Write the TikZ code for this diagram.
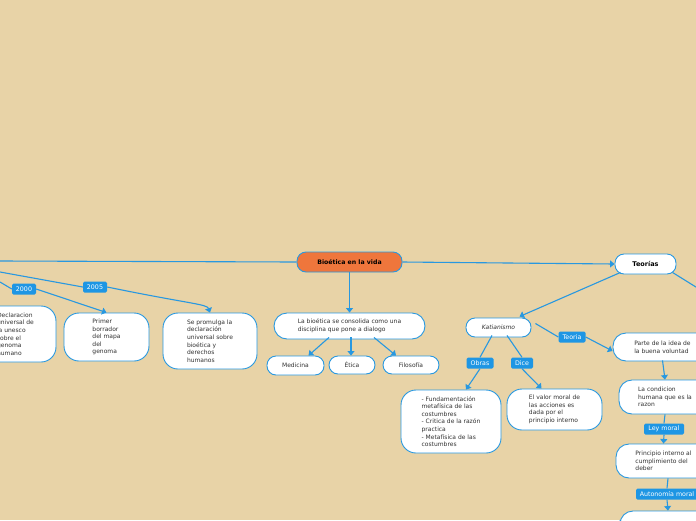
\documentclass[tikz,border=0pt]{standalone}
\usepackage{fontspec}
\setmainfont{DejaVu Sans}
\usetikzlibrary{arrows.meta}
\definecolor{bg}{RGB}{232,211,167}
\definecolor{ln}{RGB}{40,152,224}
\definecolor{lbl}{RGB}{30,150,228}
\definecolor{org}{RGB}{239,118,60}
\definecolor{txt}{RGB}{50,50,50}
\begin{document}
\begin{tikzpicture}[x=1pt,y=-1pt,
 box/.style={draw=ln, line width=0.9pt, fill=white, rounded corners=13pt, align=left,
   font=\fontsize{6}{7.6}\selectfont, text=txt, inner sep=0pt},
 pill/.style={box, rounded corners=9pt},
 lab/.style={fill=lbl, text=white, rounded corners=1.5pt, font=\fontsize{6.3}{7}\selectfont,
   inner sep=0pt, minimum height=11pt},
 conn/.style={draw=ln, line width=1.1pt},
 arr/.style={conn, -{Triangle[width=7pt,length=4.5pt]}},
]
\clip (0,0) rectangle (696,520);
\fill[bg] (0,0) rectangle (696,520);

% main nodes
\node[pill, fill=org, text=black, font=\fontsize{6.2}{7}\selectfont\bfseries, minimum width=105, minimum height=20] (root) at (349.5,262) {Bioética en la vida};
\node[pill, text=black, font=\fontsize{6.5}{7}\selectfont\bfseries, minimum width=61, minimum height=20] (teo) at (645.5,264) {Teorías};

% left branch
\node[box, minimum width=81, minimum height=56, rounded corners=15pt] (decl) at (15.5,334) {Declaracion\\universal de\\la unesco\\sobre el\\genoma\\humano};
\node[box, minimum width=85, minimum height=48, rounded corners=15pt] (prim) at (106.5,337) {Primer\\borrador\\del mapa\\del\\genoma};
\node[box, minimum width=94, minimum height=56, rounded corners=15pt] (prom) at (210,341) {Se promulga la\\declaración\\universal sobre\\bioética y\\derechos\\humanos};

\coordinate (l1) at (0,272);
\coordinate (l2) at (0,282);
\coordinate (l0) at (0,261);
\node[lab, minimum width=24] (y2000) at (24,289) {2000};
\node[lab, minimum width=24] (y2005) at (95,287) {2005};

\draw[conn] (root.west) -- (l0);
\draw[conn] (l2) -- (y2000.west);
\draw[arr] (y2000.east) -- (prim.north);
\draw[conn] (l1) -- (y2005.west);
\draw[arr] (y2005.east) .. controls (190,304) and (207,304) .. (prom.north);

% center branch
\node[box, minimum width=151, minimum height=26] (cons) at (349.5,326) {La bioética se consolida como una\\disciplina que pone a dialogo};
\node[pill, minimum width=57, minimum height=19] (med) at (295.5,365.5) {Medicina};
\node[pill, minimum width=46, minimum height=18] (eti) at (352,365) {Ética};
\node[pill, minimum width=56, minimum height=18] (fil) at (411,365) {Filosofía};

\draw[arr] (root.south) -- (cons.north);
\draw[arr] ([xshift=-20.5,yshift=2]cons.south) -- ([xshift=13]med.north);
\draw[arr] ([xshift=1.5,yshift=2]cons.south) -- ([xshift=-1]eti.north);
\draw[arr] ([xshift=24.5,yshift=2]cons.south) -- ([xshift=-15]fil.north);

% right branch
\draw[arr] (root.east) -- (teo.west);
\coordinate (rr) at (712,297);
\draw[conn] ([xshift=27,yshift=2]teo.south) -- (rr);

\node[pill, minimum width=65, minimum height=19] (kat) at (498.5,327.5) {\itshape Katianismo};
\draw[arr] ([xshift=-25,yshift=2]teo.south) -- ([xshift=21,yshift=1]kat.north);

\node[box, minimum width=99, minimum height=28] (parte) at (662.5,347) {Parte de la idea de\\la buena voluntad};
\node[lab, minimum width=27] (lteo) at (572,337) {Teoria};
\draw[conn] ([xshift=4,yshift=4]kat.east) -- (lteo.west);
\draw[arr] (lteo.east) -- ([yshift=-4]parte.west);

\node[box, minimum width=100, minimum height=63, rounded corners=15pt] (obr) at (451,421.5) {- Fundamentación\\metafísica de las\\costumbres\\- Critica de la razón\\practica\\- Metafísica de las\\costumbres};
\node[lab, minimum width=27] (lobr) at (480,363) {Obras};
\draw[conn] ([xshift=-6.5,yshift=2]kat.south) -- (lobr.north);
\draw[arr] (lobr.south) -- ([xshift=15]obr.north);

\node[box, minimum width=95, minimum height=41, rounded corners=15pt] (dic) at (554.5,409.5) {El valor moral de\\las acciones es\\dada por el\\principio interno};
\node[lab, minimum width=22] (ldic) at (522,363) {Dice};
\draw[conn] ([xshift=8.5,yshift=2]kat.south) -- (ldic.north);
\draw[arr] (ldic.south) -- ([xshift=-13]dic.north);

\node[box, minimum width=92, minimum height=34] (cond) at (665,397) {La condicion\\humana que es la\\razon};
\draw[arr] ([yshift=1]parte.south) -- (cond.north);

\node[box, minimum width=95, minimum height=34] (prin) at (663.5,461) {Principio interno al\\cumplimiento del\\deber};
\node[lab, minimum width=40] (lley) at (664,429) {Ley moral};
\draw[conn] (cond.south) -- (lley.north);
\draw[arr] (lley.south) -- (prin.north);

\node[box, minimum width=96, minimum height=22] (last) at (668,522) {};
\node[lab, minimum width=62] (laut) at (667,494) {Autonomía moral};
\draw[conn] ([xshift=4.5]prin.south) -- (laut.north);
\draw[arr] (laut.south) -- (last.north);
\end{tikzpicture}
\end{document}
